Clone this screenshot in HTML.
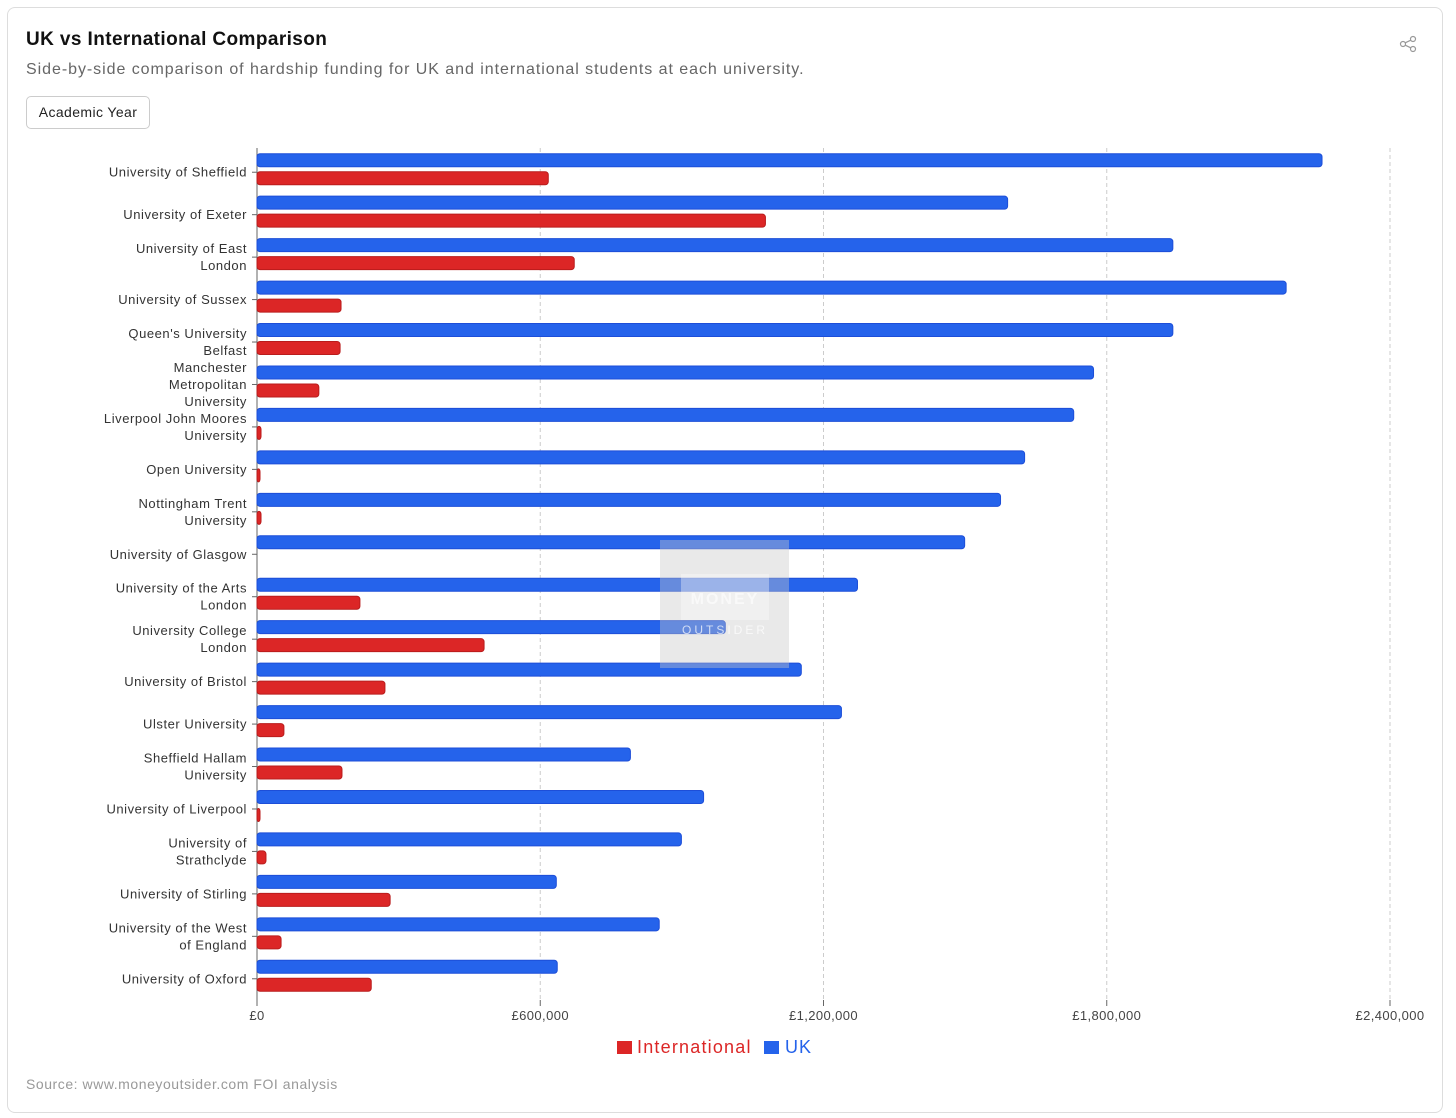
<!DOCTYPE html>
<html><head><meta charset="utf-8">
<style>
body{margin:0;background:#fff;font-family:"Liberation Sans",sans-serif;}
#card{position:absolute;left:7px;top:7px;width:1436px;height:1106px;border:1px solid #ddd;border-radius:8px;box-sizing:border-box;}
</style></head>
<body>
<div id="card"></div>
<div style="position:absolute;left:26px;top:29px;font-size:19px;font-weight:bold;color:#111;letter-spacing:0.4px;">UK vs International Comparison</div>
<div style="position:absolute;left:26px;top:61px;font-size:16px;color:#666;letter-spacing:0.95px;">Side-by-side comparison of hardship funding for UK and international students at each university.</div>
<div style="position:absolute;left:26px;top:96px;width:124px;height:33px;border:1px solid #ccc;border-radius:5px;box-sizing:border-box;font-size:14px;color:#222;text-align:center;line-height:31px;letter-spacing:0.4px;">Academic Year</div>
<svg style="position:absolute;left:1398px;top:34px" width="20" height="20" viewBox="0 0 20 20"><g fill="none" stroke="#999" stroke-width="1.2"><circle cx="15" cy="5" r="2.5"/><circle cx="5" cy="10" r="2.5"/><circle cx="15" cy="15" r="2.5"/><path d="M7.2 8.8L12.8 6.2M7.2 11.2L12.8 13.8"/></g></svg>
<svg id="chart" style="position:absolute;left:0;top:0" width="1456" height="1118"></svg>
<div style="position:absolute;left:26px;top:1076px;font-size:14px;color:#999;letter-spacing:0.55px;">Source: www.moneyoutsider.com FOI analysis</div>
<script>
const categories=["University of Sheffield","University of Exeter","University of East|London","University of Sussex","Queen's University|Belfast","Manchester|Metropolitan|University","Liverpool John Moores|University","Open University","Nottingham Trent|University","University of Glasgow","University of the Arts|London","University College|London","University of Bristol","Ulster University","Sheffield Hallam|University","University of Liverpool","University of|Strathclyde","University of Stirling","University of the West|of England","University of Oxford"];
const ukValues=[2256000,1590000,1940000,2180000,1940000,1772000,1730000,1626000,1575000,1499000,1272000,992000,1153000,1238000,791000,946000,899000,634000,852000,636000];
const intlValues=[617000,1077000,672000,178000,176000,131000,8500,4000,8500,0,218000,481000,271000,57000,180000,6000,19000,282000,51000,242000];
const tickValues=[0,600000,1200000,1800000,2400000];
const tickLabels=["£0","£600,000","£1,200,000","£1,800,000","£2,400,000"];
const NS="http://www.w3.org/2000/svg";
const svg=document.getElementById('chart');
const x0=257,x1=1390,top0=151,rowH=42.45;
function xs(v){return x0+(v/2400000)*(x1-x0);}
function mk(t,a){const e=document.createElementNS(NS,t);for(const k in a)e.setAttribute(k,a[k]);svg.appendChild(e);return e;}
tickValues.forEach((v,i)=>{
  if(i>0){const g=mk('line',{x1:xs(v),x2:xs(v),y1:148,y2:1000,stroke:'#ccc','stroke-dasharray':'4,3'});
  
  }
  const tk=mk('line',{x1:xs(v),x2:xs(v),y1:1000,y2:1006,stroke:'#666'});
  
  
  const t=mk('text',{x:xs(v),y:1020,'text-anchor':'middle','font-size':13,fill:'#444','letter-spacing':0.4});
  t.textContent=tickLabels[i];
  
  
});
const ax=mk('line',{x1:x0,x2:x0,y1:148,y2:1000,stroke:'#666'});


categories.forEach((c,i)=>{
  const cy=top0+rowH*i+rowH/2;
  const tk=mk('line',{x1:x0-5,x2:x0,y1:cy,y2:cy,stroke:'#666'});
  
  
  const lines=c.split('|');
  lines.forEach((l,j)=>{
    const t=mk('text',{x:x0-10,y:cy+4.5+(j-(lines.length-1)/2)*17,'text-anchor':'end','font-size':13,fill:'#333','letter-spacing':0.55});
    t.textContent=l;
    
    
  });
  const u=mk('rect',{x:x0,y:cy-18.5,width:Math.max(0,xs(ukValues[i])-x0),height:13,rx:3,fill:'#2563eb',stroke:'#1d4ed8','stroke-width':1});
  
  
  if(intlValues[i]>0){
  const r=mk('rect',{x:x0,y:cy-0.5,width:Math.max(3,xs(intlValues[i])-x0),height:13,rx:3,fill:'#dc2626',stroke:'#b91c1c','stroke-width':1});
  
  }
});
const wm=mk('rect',{x:660,y:540,width:129,height:128,fill:'rgba(200,200,200,0.4)'});


const wm2=mk('rect',{x:681,y:574,width:88,height:46,fill:'rgba(255,255,255,0.35)'});


const w1=mk('text',{x:725,y:604,'text-anchor':'middle','font-size':16,'font-weight':'bold',fill:'rgba(255,255,255,0.6)','letter-spacing':2});w1.textContent='MONEY';


const w2=mk('text',{x:725,y:634,'text-anchor':'middle','font-size':12,fill:'rgba(255,255,255,0.7)','letter-spacing':3});w2.textContent='OUTSIDER';


const l1=mk('rect',{x:617,y:1041,width:15,height:13,fill:'#dc2626'});


const lt1=mk('text',{x:637,y:1053,'font-size':18,fill:'#dc2626','letter-spacing':1.2});lt1.textContent='International';


const l2=mk('rect',{x:764,y:1041,width:15,height:13,fill:'#2563eb'});


const lt2=mk('text',{x:785,y:1053,'font-size':18,fill:'#2563eb','letter-spacing':1});lt2.textContent='UK';


</script>
</body></html>
